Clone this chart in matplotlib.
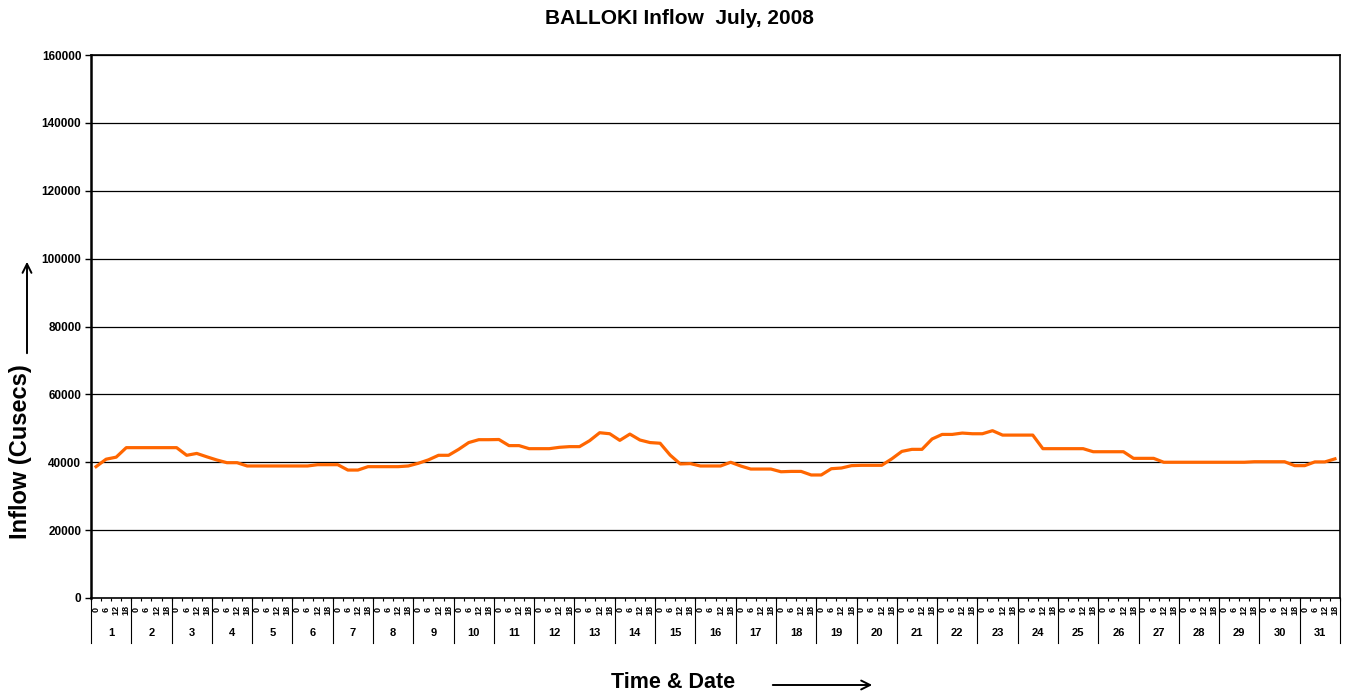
import numpy as np
import matplotlib
matplotlib.use('Agg')
import matplotlib.pyplot as plt

plt.rcParams['font.family'] = ['Liberation Sans', 'DejaVu Sans']
plt.rcParams['font.weight'] = 'bold'

# six-hourly inflow readings (cusecs), 0/6/12/18 hrs for each day of July 2008
days = list(range(1, 32))
hours = [0, 6, 12, 18]
inflow = [
    38700, 40900, 41500, 44300,   # 1
    44300, 44300, 44300, 44300,   # 2
    44300, 42050, 42600, 41600,   # 3
    40660, 39870, 39870, 38900,   # 4
    38900, 38900, 38900, 38900,   # 5
    38900, 38900, 39280, 39280,   # 6
    39280, 37700, 37700, 38700,   # 7
    38700, 38700, 38700, 38900,   # 8
    39700, 40700, 42050, 42050,   # 9
    43800, 45800, 46650, 46650,   # 10
    46700, 44900, 44900, 44000,   # 11
    44000, 44000, 44400, 44600,   # 12
    44600, 46350, 48700, 48400,   # 13
    46450, 48300, 46550, 45800,   # 14
    45600, 42100, 39500, 39600,   # 15
    38900, 38900, 38900, 40000,   # 16
    38900, 38000, 38000, 38000,   # 17
    37200, 37300, 37300, 36250,   # 18
    36250, 38100, 38300, 39000,   # 19
    39100, 39100, 39100, 41000,   # 20
    43200, 43800, 43800, 46850,   # 21
    48200, 48200, 48600, 48400,   # 22
    48400, 49300, 48000, 48000,   # 23
    48000, 48000, 44000, 44000,   # 24
    44000, 44000, 44000, 43100,   # 25
    43100, 43100, 43100, 41150,   # 26
    41150, 41150, 40000, 40000,   # 27
    40000, 40000, 40000, 40000,   # 28
    40000, 40000, 40000, 40150,   # 29
    40150, 40150, 40150, 39000,   # 30
    39000, 40100, 40100, 41000,   # 31
]
y_ticks = [0, 20000, 40000, 60000, 80000, 100000, 120000, 140000, 160000]

n = len(inflow)
x = np.arange(n)
W, H = 1350, 697

fig = plt.figure(figsize=(W / 100, H / 100), dpi=100)
ax = fig.add_axes([91 / W, 1 - 598 / H, (1340 - 91) / W, (598 - 55) / H])

ax.plot(x, inflow, color='#FF6600', lw=2.3, zorder=3)

ax.set_xlim(-0.5, n - 0.5)
ax.set_ylim(0, 160000)
ax.set_yticks(y_ticks)
ax.set_yticklabels([str(v) for v in y_ticks], fontsize=8.5, fontweight='bold')
ax.tick_params(axis='y', length=4, width=1, pad=3)
for v in y_ticks[1:]:
    ax.axhline(v, color='#000000', lw=0.9, zorder=1)

# hour labels under each point, short ticks on category boundaries
ax.set_xticks(x)
ax.set_xticklabels([str(h) for h in hours] * len(days), rotation=90,
                   fontsize=6.5, fontweight='bold', va='center')
ax.tick_params(axis='x', length=0, pad=8.5)
ax.set_xticks(np.arange(n + 1) - 0.5, minor=True)
ax.tick_params(axis='x', which='minor', length=2.5, width=0.8, direction='out')

trans = ax.get_xaxis_transform()
for i, d in enumerate(days):
    ax.text(4 * i + 1.5, -0.0645, str(d), transform=trans, ha='center',
            va='center', fontsize=8, fontweight='bold')
    ax.plot([4 * i - 0.5, 4 * i - 0.5], [0, -0.082], transform=trans,
            color='black', lw=0.8, clip_on=False)
ax.plot([n - 0.5, n - 0.5], [0, -0.082], transform=trans,
        color='black', lw=0.8, clip_on=False)

for side in ['left', 'bottom', 'right', 'top']:
    ax.spines[side].set_linewidth(1.2)
ax.spines['left'].set_linewidth(1.8)

fig.text(679 / W, 1 - 18 / H, 'BALLOKI Inflow  July, 2008', ha='center',
         va='center', fontsize=15, fontweight='bold')
fig.text(21 / W, 1 - 452 / H, 'Inflow (Cusecs)', rotation=90, ha='center',
         va='center', fontsize=17, fontweight='bold')
fig.text(673 / W, 1 - 683 / H, 'Time & Date', ha='center', va='center',
         fontsize=15.5, fontweight='bold')

# pointer arrows beside the axis titles
fig.add_artist(matplotlib.patches.FancyArrowPatch(
    (27 / W, 1 - 356 / H), (27 / W, 1 - 259 / H), transform=fig.transFigure,
    arrowstyle='->', mutation_scale=16, lw=1.4, color='black'))
fig.add_artist(matplotlib.patches.FancyArrowPatch(
    (770 / W, 1 - 685 / H), (875 / W, 1 - 685 / H), transform=fig.transFigure,
    arrowstyle='->', mutation_scale=16, lw=1.4, color='black'))

fig.savefig('out.png', dpi=100)
